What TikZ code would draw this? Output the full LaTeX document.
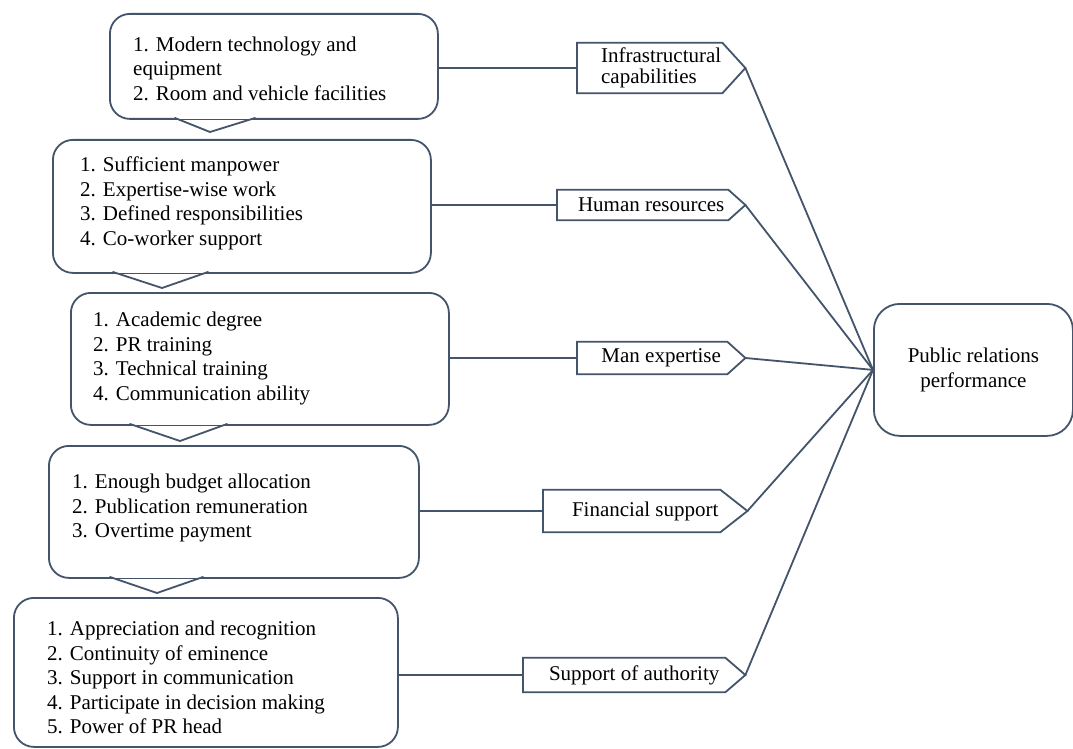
\documentclass[tikz,border=0pt]{standalone}
\usepackage{fontspec}
\setmainfont{Liberation Serif}
\usetikzlibrary{calc}
\definecolor{ln}{RGB}{68,84,106}
\newcommand\pentpath[2]{%
  \draw[line] (#1.south west) -- (#1.north west) -- ([xshift=-#2pt]#1.north east)
    -- (#1.east) -- ([xshift=-#2pt]#1.south east) -- cycle;}
\newcommand\calloutpt[5]{% bottom y, base left x, base right x, tip x, tip y
  \fill[white] (#2+1,#1-1.5) rectangle (#3-1,#1+1);
  \draw[line, line cap=round, line join=miter] (#2,#1) -- (#4,#5) -- (#3,#1);}
\begin{document}
\begin{tikzpicture}[x=1pt,y=-1pt,
  line/.style={draw=ln, line width=1.8pt},
  cbox/.style={line, rounded corners=20pt, anchor=north west, inner sep=0pt},
  listtext/.style={anchor=west, inner sep=0pt, align=left,
    font=\fontsize{21}{24.5}\selectfont},
  pent/.style={anchor=west, inner sep=0pt, align=left,
    font=\fontsize{21}{21}\selectfont},
  target/.style={line, rounded corners=26pt, anchor=north west, inner sep=0pt,
    align=center, font=\fontsize{21}{25}\selectfont}]
\fill[white] (0,0) rectangle (1073,749);
\useasboundingbox (0,0) rectangle (1073,749);

% left callout boxes
\node[cbox, minimum width=328pt, minimum height=105pt] (b1) at (109,13) {};
\node[cbox, minimum width=378pt, minimum height=133pt] (b2) at (52,139) {};
\node[cbox, minimum width=378pt, minimum height=132pt] (b3) at (70,292) {};
\node[cbox, minimum width=370pt, minimum height=132pt] (b4) at (48,445) {};
\node[cbox, minimum width=384pt, minimum height=149pt] (b5) at (13,597) {};

\calloutpt{118}{175}{255}{210}{132}
\calloutpt{272}{113}{208}{162}{288}
\calloutpt{424}{130}{227}{180}{441}
\calloutpt{577}{110}{203}{157}{593}

\node[listtext] (t1) at (133,68.5) {1. Modern technology and\\equipment\\2. Room and vehicle facilities};
\node[listtext] (t2) at (80,203.5) {1. Sufficient manpower\\2. Expertise-wise work\\3. Defined responsibilities\\4. Co-worker support};
\node[listtext] (t3) at (93,358.5) {1. Academic degree\\2. PR training\\3. Technical training\\4. Communication ability};
\node[listtext] (t4) at (72,508) {1. Enough budget allocation\\2. Publication remuneration\\3. Overtime payment};
\node[listtext] (t5) at (47,677.5) {1. Appreciation and recognition\\2. Continuity of eminence\\3. Support in communication\\4. Participate in decision making\\5. Power of PR head};

% pentagon labels
\node[pent, minimum width=168pt, minimum height=50pt] (infra) at (577,68) {Infrastructural\\capabilities};
\pentpath{infra}{23}
\node[pent, minimum width=188pt, minimum height=30pt] (hr) at (557,205) {Human resources};
\pentpath{hr}{17}
\node[pent, minimum width=168pt, minimum height=32pt] (man) at (577,358) {Man expertise};
\pentpath{man}{18}
\node[pent, minimum width=204pt, minimum height=42pt] (fin) at (543,511) {Financial support};
\pentpath{fin}{27}
\node[pent, minimum width=222pt, minimum height=34pt] (auth) at (523,675) {Support of authority};
\pentpath{auth}{20}

% target
\node[target, minimum width=199pt, minimum height=132pt] (pr) at (873,303) {Public relations\\performance};

% connectors
\draw[line] (b1.east |- infra.west) -- (infra.west);
\draw[line] (b2.east |- hr.west) -- (hr.west);
\draw[line] (b3.east |- man.west) -- (man.west);
\draw[line] (b4.east |- fin.west) -- (fin.west);
\draw[line] (b5.east |- auth.west) -- (auth.west);
\foreach \n in {infra,hr,man,fin,auth}
  \draw[line] (\n.east) -- (pr.west);
\end{tikzpicture}
\end{document}
